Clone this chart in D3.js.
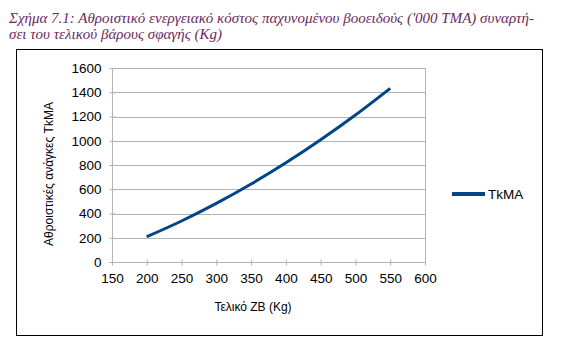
<!DOCTYPE html>
<html>
<head>
<meta charset="utf-8">
<script src="https://cdn.jsdelivr.net/npm/d3@7"></script>
<style>
  html, body { margin: 0; padding: 0; background: #fff; }
  svg { display: block; }
</style>
</head>
<body>
<div id="chart"></div>
<script>
// values
const weights = [200, 250, 300, 350, 400, 450, 500, 550];
const tkma = [208, 338, 483, 643, 818, 1008, 1212, 1432];
const xTicks = [150, 200, 250, 300, 350, 400, 450, 500, 550, 600];
const yTicks = [0, 200, 400, 600, 800, 1000, 1200, 1400, 1600];
const seriesName = "TkMA";
const titleLines = [
  "Σχήμα 7.1: Αθροιστικό ενεργειακό κόστος παχυνομένου βοοειδούς ('000 ΤΜΑ) συναρτή-",
  "σει του τελικού βάρους σφαγής (Kg)"
];

(function () {
  const width = 562;
  const height = 353;
  const plot = { left: 112, right: 425, top: 68, bottom: 262 };
  const lineColor = "#004586";
  const gridColor = "#b3b3b3";
  const textColor = "#000";

  const svg = d3.select("#chart").append("svg").attr("width", width).attr("height", height);

  svg
    .append("g")
    .selectAll("text")
    .data(titleLines)
    .join("text")
    .attr("x", 9)
    .attr("y", (d, i) => 23 + i * 16)
    .attr("fill", "#6a2a5c")
    .attr("font-family", "'Liberation Serif', 'Times New Roman', serif")
    .attr("font-style", "italic")
    .attr("font-size", 15)
    .text((d) => d);

  svg
    .append("rect")
    .attr("x", 16.5)
    .attr("y", 49.5)
    .attr("width", 526)
    .attr("height", 286)
    .attr("fill", "#fff")
    .attr("stroke", "#000")
    .attr("stroke-width", 1);

  const x = d3.scaleLinear().domain([150, 600]).range([plot.left, plot.right]);
  const y = d3.scaleLinear().domain([0, 1600]).range([plot.bottom, plot.top]);

  svg
    .append("g")
    .selectAll("line")
    .data(yTicks)
    .join("line")
    .attr("x1", plot.left)
    .attr("x2", plot.right)
    .attr("y1", (d) => Math.round(y(d)) + 0.5)
    .attr("y2", (d) => Math.round(y(d)) + 0.5)
    .attr("stroke", gridColor);

  svg
    .append("line")
    .attr("x1", plot.right + 0.5)
    .attr("x2", plot.right + 0.5)
    .attr("y1", plot.top)
    .attr("y2", plot.bottom)
    .attr("stroke", gridColor);

  svg
    .append("g")
    .attr("transform", `translate(0, ${Math.round(plot.bottom) + 0.5})`)
    .call(d3.axisBottom(x).tickValues(xTicks).tickSize(5).tickPadding(6).tickFormat(d3.format("d")))
    .call((axis) => axis.select(".domain").attr("stroke", gridColor).attr("d", `M${plot.left},0H${plot.right}`))
    .call((axis) => axis.selectAll(".tick line").attr("stroke", gridColor).attr("y1", -3).attr("y2", 3))
    .call((axis) => axis.selectAll("text").attr("fill", textColor).attr("font-family", "'Liberation Sans', Arial, sans-serif").attr("font-size", 13.5));

  svg
    .append("g")
    .attr("transform", `translate(${plot.left + 0.5}, 0)`)
    .call(d3.axisLeft(y).tickValues(yTicks).tickSize(5).tickPadding(6).tickFormat(d3.format("d")))
    .call((axis) => axis.select(".domain").attr("stroke", gridColor).attr("d", `M0,${plot.top}V${plot.bottom}`))
    .call((axis) => axis.selectAll(".tick line").attr("stroke", gridColor).attr("x1", -3).attr("x2", 3))
    .call((axis) => axis.selectAll("text").attr("fill", textColor).attr("font-family", "'Liberation Sans', Arial, sans-serif").attr("font-size", 13.5));

  const data = weights.map((w, i) => ({ w, v: tkma[i] }));
  const line = d3
    .line()
    .x((d) => x(d.w))
    .y((d) => y(d.v))
    .curve(d3.curveMonotoneX);

  svg
    .append("path")
    .datum(data)
    .attr("d", line)
    .attr("fill", "none")
    .attr("stroke", lineColor)
    .attr("stroke-width", 3);

  svg
    .append("text")
    .attr("x", 253)
    .attr("y", 311)
    .attr("text-anchor", "middle")
    .attr("fill", textColor)
    .attr("font-family", "'Liberation Sans', Arial, sans-serif")
    .attr("font-size", 12)
    .text("Τελικό ΖΒ (Kg)");

  svg
    .append("text")
    .attr("transform", "translate(53, 174) rotate(-90)")
    .attr("text-anchor", "middle")
    .attr("fill", textColor)
    .attr("font-family", "'Liberation Sans', Arial, sans-serif")
    .attr("font-size", 12)
    .text("Αθροιστικές ανάγκες TkMA");

  const legend = svg.append("g").attr("transform", "translate(452, 194)");
  legend
    .append("line")
    .attr("x1", 0)
    .attr("x2", 33)
    .attr("stroke", lineColor)
    .attr("stroke-width", 4);
  legend
    .append("text")
    .attr("x", 36)
    .attr("dy", "0.35em")
    .attr("fill", textColor)
    .attr("font-family", "'Liberation Sans', Arial, sans-serif")
    .attr("font-size", 13.5)
    .text(seriesName);
})();
</script>
</body>
</html>
